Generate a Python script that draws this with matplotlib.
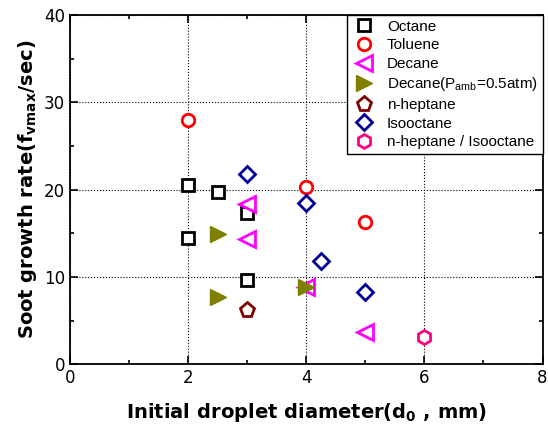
import matplotlib
matplotlib.use("Agg")
import matplotlib.pyplot as plt
from matplotlib.ticker import MultipleLocator

# data
octane_x = [2, 2, 2.5, 3, 3]
octane_y = [20.5, 14.5, 19.7, 17.3, 9.7]
toluene_x = [2, 4, 5]
toluene_y = [28, 20.3, 16.3]
decane_x = [3, 3, 4, 5]
decane_y = [18.3, 14.3, 8.8, 3.7]
decane_half_x = [2.5, 2.5, 4]
decane_half_y = [14.9, 7.7, 8.9]
heptane_x = [3]
heptane_y = [6.2]
isooctane_x = [3, 4, 4.25, 5]
isooctane_y = [21.8, 18.5, 11.8, 8.3]
mix_x = [6]
mix_y = [3.1]

fig = plt.figure(figsize=(5.48, 4.32), dpi=100)
ax = fig.add_axes([0.128, 0.157, 0.862, 0.808])
ax.set_axisbelow(True)

ms = 9
ax.plot(octane_x, octane_y, 's', ms=ms, mfc='white', mec='black', mew=2, label='Octane')
ax.plot(toluene_x, toluene_y, 'o', ms=ms, mfc='white', mec='red', mew=2, label='Toluene')
ax.plot(decane_x, decane_y, '<', ms=ms + 2, mfc='white', mec='magenta', mew=2, label='Decane')
ax.plot(decane_half_x, decane_half_y, '>', ms=ms + 3, color='#808000', mec='#808000',
        label=r'Decane(P$_{\mathregular{amb}}$=0.5atm)')
ax.plot(heptane_x, heptane_y, 'p', ms=ms + 2, mfc='white', mec='#800000', mew=2, label='n-heptane')
ax.plot(isooctane_x, isooctane_y, 'D', ms=ms - 1, mfc='white', mec='#000099', mew=2, label='Isooctane')
ax.plot(mix_x, mix_y, 'h', ms=ms + 1, mfc='white', mec='#ff0080', mew=2, label='n-heptane / Isooctane')

ax.set_xlim(0, 8)
ax.set_ylim(0, 40)
ax.xaxis.set_major_locator(MultipleLocator(2))
ax.xaxis.set_minor_locator(MultipleLocator(1))
ax.yaxis.set_major_locator(MultipleLocator(10))
ax.yaxis.set_minor_locator(MultipleLocator(5))
ax.tick_params(which='both', direction='in', top=True, right=True, width=1.2, labelsize=12)
ax.tick_params(which='major', length=6)
ax.tick_params(which='minor', length=3)
ax.grid(True, which='major', linestyle=':', color='black', linewidth=0.8)
for s in ax.spines.values():
    s.set_linewidth(1.3)

ax.set_xlabel(r'Initial droplet diameter(d$_{\mathregular{0}}$ , mm)', fontsize=14, fontweight='bold', labelpad=10)
ax.set_ylabel(r'Soot growth rate(f$_{\mathregular{vmax}}$/sec)', fontsize=14, fontweight='bold')

leg = ax.legend(loc='upper right', prop={'family': 'Liberation Sans', 'size': 11},
                fancybox=False, framealpha=1, edgecolor='black', borderaxespad=0,
                handletextpad=0.7, labelspacing=0.3, handlelength=1.6, borderpad=0.3)
leg.get_frame().set_linewidth(1.0)

fig.savefig('out.png', dpi=100)
